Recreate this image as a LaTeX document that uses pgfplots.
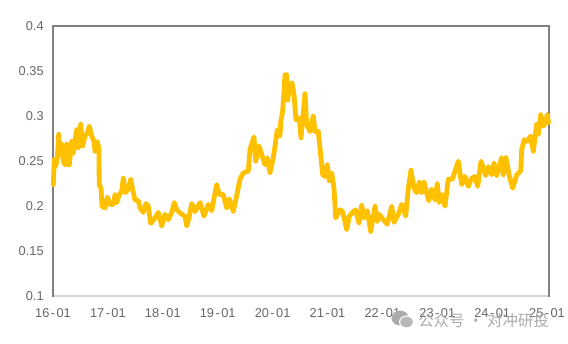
\documentclass[border=0pt]{standalone}
\usepackage{pgfplots}
\pgfplotsset{compat=1.18}
\usepackage{pgfplotstable}
\usepackage{fontspec}
\setmainfont{Liberation Sans}
\newfontfamily\cjk{Noto Sans CJK SC}
\definecolor{linegold}{HTML}{FFC000}
\definecolor{ticktxt}{HTML}{666666}
\definecolor{wm}{HTML}{ABABAB}
\newcommand{\ym}[2]{#1\kern1.1pt-\kern1.1pt#2}

% x = weeks-ish from 2016-01 (54.9 per year), y = ratio
\pgfplotstableread{
x y
0.3 0.224
1.3 0.252
2.7 0.244
4.3 0.254
5.7 0.280
7 0.257
8.7 0.269
10.3 0.250
12 0.246
13.7 0.269
14.7 0.246
16.3 0.246
18.7 0.272
20.3 0.259
22 0.272
23.7 0.285
25.3 0.265
27.7 0.291
29.7 0.267
32 0.278
34.3 0.281
36.3 0.289
38.7 0.278
41 0.272
42 0.261
44.3 0.272
46 0.263
46.2 0.224
48 0.220
49 0.200
52 0.198
54.3 0.210
57 0.202
60.3 0.202
62 0.213
63.7 0.204
66.3 0.213
68.7 0.217
70.3 0.231
72.3 0.215
75.3 0.219
77.7 0.230
80.3 0.215
82 0.207
85.3 0.206
87 0.198
90.3 0.193
93 0.203
95.3 0.200
97.7 0.181
102 0.187
105.3 0.193
108.7 0.178
112 0.191
115.3 0.185
118.7 0.193
121.3 0.204
123.7 0.196
128.7 0.191
132 0.189
133.7 0.178
136 0.187
138.7 0.203
142 0.194
147 0.204
151 0.189
155.3 0.202
158.7 0.195
163.7 0.224
166.3 0.213
170.3 0.213
173.7 0.198
176.3 0.208
180.3 0.194
184.3 0.215
187 0.230
190.3 0.237
195.3 0.239
197 0.263
201 0.277
202.7 0.250
206 0.267
212 0.246
214.3 0.254
217 0.237
220.3 0.254
222.7 0.272
224.3 0.285
227 0.278
227.7 0.293
229.7 0.306
232 0.346
233.7 0.346
234.7 0.318
237 0.335
239 0.337
241 0.324
243 0.296
246.3 0.298
248 0.276
252 0.325
253.7 0.291
257 0.283
260.3 0.300
262 0.283
265.3 0.283
269.7 0.235
272 0.233
274.3 0.246
276.3 0.228
278.7 0.237
281 0.220
282.7 0.187
287 0.196
289.7 0.194
293.7 0.174
296.3 0.189
300.3 0.194
302.7 0.196
306 0.181
308.7 0.201
311 0.187
314.3 0.195
317.7 0.172
322 0.200
324.3 0.183
326.3 0.191
330.3 0.185
334.3 0.180
338.7 0.200
341 0.182
345.3 0.191
348.7 0.202
352.7 0.189
355.3 0.220
358 0.240
361 0.220
363.7 0.215
366.3 0.227
368.7 0.215
371 0.227
375.7 0.206
378.7 0.219
382 0.207
384.3 0.225
386 0.204
388.7 0.213
392 0.200
395.3 0.230
399.3 0.230
405.3 0.250
408.7 0.224
412 0.233
415.3 0.222
418.7 0.231
422 0.233
424.7 0.222
428 0.250
432.7 0.234
435.3 0.244
438.7 0.235
441 0.248
443.7 0.234
446.3 0.244
448.7 0.254
450.3 0.235
453 0.254
456 0.235
459.7 0.220
463.7 0.235
467.7 0.239
468.7 0.263
471.3 0.274
474.3 0.272
477.7 0.278
480.3 0.261
483.7 0.291
485.3 0.280
487.7 0.302
490.3 0.289
492.7 0.293
494.3 0.302
495.5 0.293
}\ratiodata

\begin{document}
\begin{tikzpicture}[x=0.75pt,y=0.75pt]
\useasboundingbox (0,0) rectangle (568,343);
\begin{axis}[
    at={(53,52)}, anchor=south west,
    scale only axis,
    width=372pt, height=202.5pt,
    xmin=0, xmax=496,
    ymin=0.1, ymax=0.4,
    xtick={0,54.9,109.8,164.7,219.6,274.5,329.4,384.3,439.2,494},
    xticklabels={\ym{16}{01},\ym{17}{01},\ym{18}{01},\ym{19}{01},\ym{20}{01},\ym{21}{01},\ym{22}{01},\ym{23}{01},\ym{24}{01},\ym{25}{01}},
    ytick={0.1,0.15,0.2,0.25,0.3,0.35,0.4},
    yticklabels={0.1,0.15,0.2,0.25,0.3,0.35,0.4},
    tick style={draw=none},
    tick label style={font=\fontsize{9.6}{11}\selectfont, text=ticktxt},
    xticklabel style={yshift=-5.5pt},
    yticklabel style={xshift=-3.5pt},
    axis line style={draw=black!50, line width=1.3pt},
    clip=false,
]
\addplot[linegold, line width=3.6pt, line join=round, line cap=round] table[x=x,y=y] {\ratiodata};
\draw[white, line width=1.6pt] (axis cs:0.6,0.1) -- (axis cs:495.4,0.1);
\draw[black!17, line width=1.5pt] (axis cs:0.6,0.1) -- (axis cs:495.4,0.1);
\end{axis}
\fill[wm] (400,25) ellipse (8.5 and 7.5);
\fill[white] (406.5,21) ellipse (7.5 and 6.5);
\fill[wm!85] (406.5,21) ellipse (6.3 and 5.3);
\node[anchor=west, text=wm, inner sep=0pt, font=\cjk\fontsize{11.6}{13}\selectfont] at (418,22) {公众号 · 对冲研投};
\end{tikzpicture}
\end{document}
